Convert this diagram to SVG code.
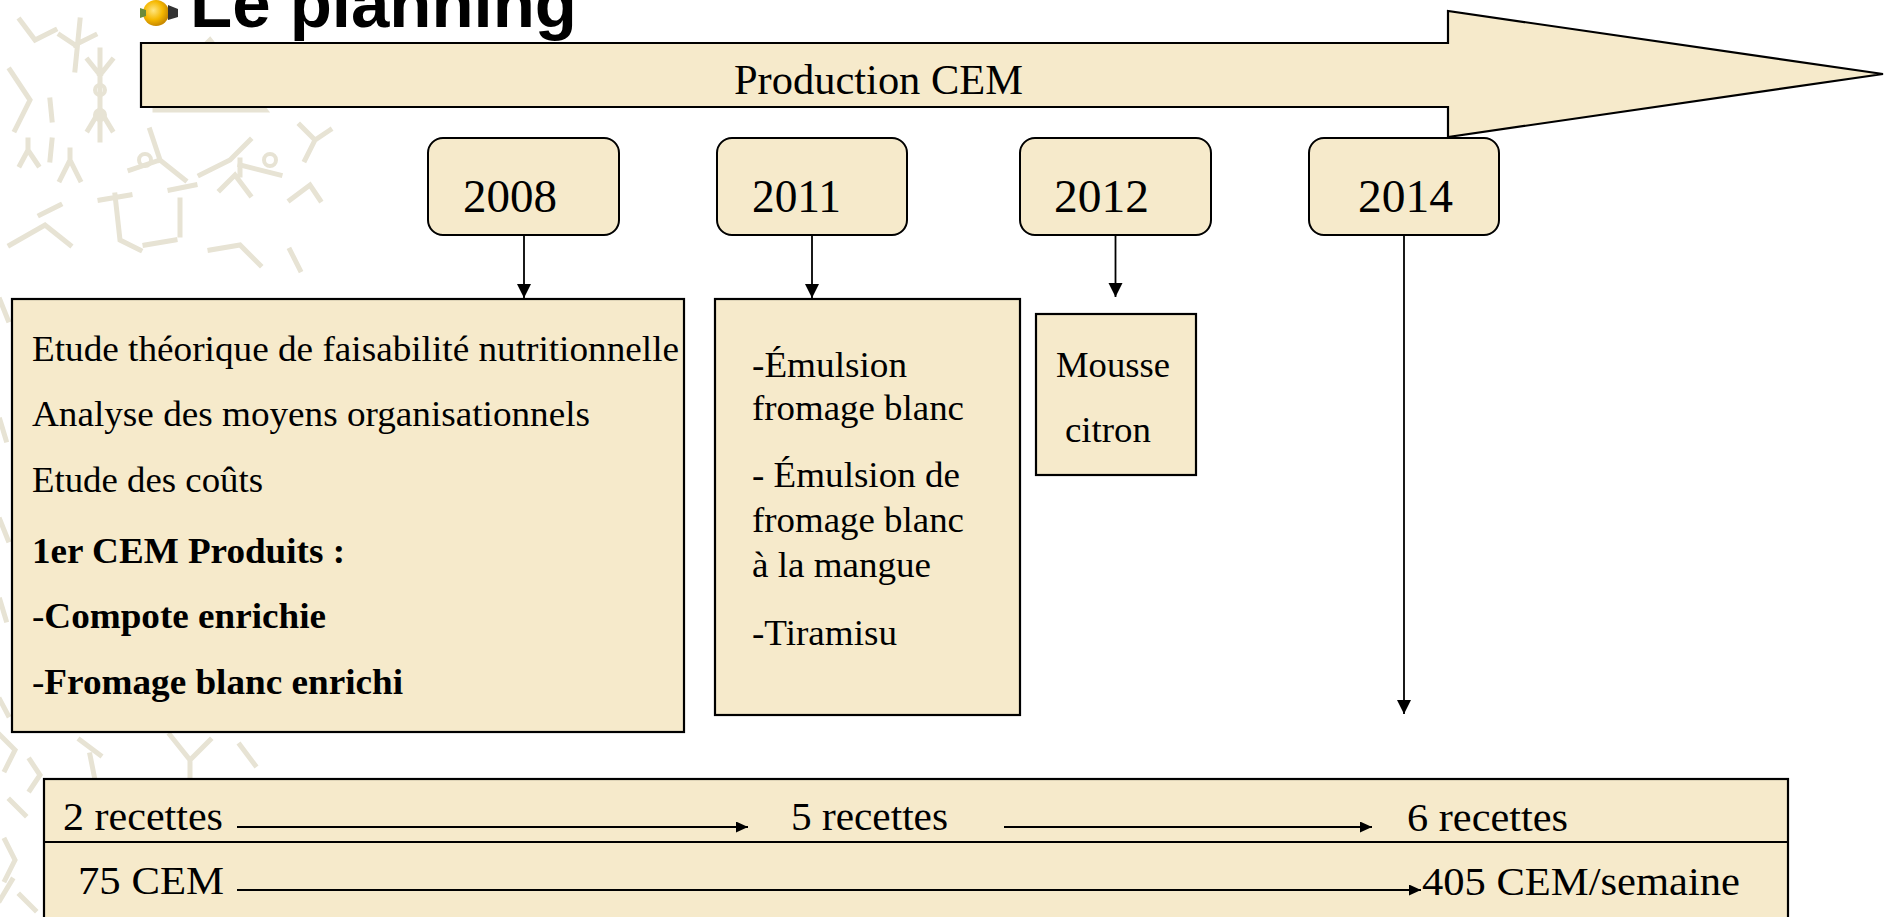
<svg xmlns="http://www.w3.org/2000/svg" width="1893" height="917" viewBox="0 0 1893 917">
<style>
.box{fill:#F6EACB;stroke:#000;stroke-width:2.2}
.yr{fill:#F6EACB;stroke:#000;stroke-width:2}
.t{font-family:"Liberation Serif","Times New Roman",serif;fill:#000}
.b{font-weight:bold}
.conn{stroke:#000;stroke-width:1.8;fill:none}
.bg{stroke:#E7E3D4;stroke-width:5;fill:none;stroke-linecap:square}
.bgc{stroke:#E7E3D4;stroke-width:4;fill:none}
</style>
<defs>
<marker id="ah" viewBox="0 0 14 16" refX="14" refY="8" markerWidth="14" markerHeight="16" markerUnits="userSpaceOnUse" orient="auto">
<path d="M0,1 L14,8 L0,15 Z" fill="#000"/>
</marker>
<marker id="ahs" viewBox="0 0 12 11" refX="12" refY="5.5" markerWidth="12" markerHeight="11" markerUnits="userSpaceOnUse" orient="auto">
<path d="M0,0 L12,5.5 L0,11 Z" fill="#000"/>
</marker>
<radialGradient id="ball" cx="0.4" cy="0.4" r="0.6">
<stop offset="0" stop-color="#FFE680"/>
<stop offset="0.6" stop-color="#F5B800"/>
<stop offset="1" stop-color="#C98A00"/>
</radialGradient>
</defs>
<rect width="1893" height="917" fill="#fff"/>
<g id="background">
<path class="bg" d="M20,20 L35,40 L55,30 M80,20 L75,70 M75,45 L60,35 M75,45 L95,35"/>
<path class="bg" d="M10,70 L30,100 L15,130 M50,100 L52,120 M52,140 L50,160"/>
<path class="bg" d="M100,50 L100,140 M100,75 L88,60 M100,75 L112,60 M100,110 L88,130 M100,110 L112,130"/>
<circle class="bgc" cx="100" cy="90" r="5"/><circle class="bgc" cx="100" cy="115" r="5"/>
<path class="bg" d="M20,165 L28,150 L38,165 M28,150 L28,140"/>
<path class="bg" d="M155,95 L210,40 L265,110 L155,110 Z"/>
<path class="bg" d="M130,170 L160,160 L185,180 M160,160 L150,130 M200,175 L230,160 L250,140 M240,165 L280,175"/>
<circle class="bgc" cx="145" cy="160" r="6"/><circle class="bgc" cx="270" cy="160" r="6"/>
<path class="bg" d="M60,180 L70,160 L80,180 M70,160 L70,150 M40,215 L60,205 M10,245 L45,225 L70,245"/>
<path class="bg" d="M100,200 L130,195 M115,195 L120,240 L140,250 M180,200 L180,235 M170,190 L195,185"/>
<path class="bg" d="M220,190 L235,175 L250,195 M240,175 L240,160 M290,200 L310,185 L320,200 M300,125 L315,140 L330,130 M315,140 L305,160"/>
<path class="bg" d="M145,245 L175,240 M210,250 L240,245 L260,265 M290,250 L300,270"/>
<path class="bg" d="M0,735 L15,750 L5,770 M30,760 L40,775 L30,790 M80,740 L100,755 M90,755 L95,780 L120,790 M170,735 L190,760 L210,740 M190,760 L190,780 M240,745 L255,765"/>
<path class="bg" d="M10,800 L25,815 M5,840 L15,860 L5,880 M20,895 L35,910 M0,900 L12,880"/>
<path class="bg" d="M0,300 L8,320 M0,420 L6,440 M0,520 L8,540 M0,600 L6,620 M0,700 L8,715"/>
</g>
<g id="title">
<circle cx="156" cy="13" r="13" fill="url(#ball)"/>
<path d="M168,5 L178,9 L178,17 L168,20 Z" fill="#333"/>
<path d="M140,8 L146,10 L146,16 L140,18 Z" fill="#6a8a3a"/>
<text x="190" y="27" font-family="'Liberation Sans',Arial,sans-serif" font-weight="bold" font-size="68" textLength="387" lengthAdjust="spacingAndGlyphs">Le planning</text>
</g>
<g id="production-arrow">
<polygon points="141,43 1448,43 1448,11 1883,74 1448,137 1448,107 141,107" fill="#F6EACB" stroke="#000" stroke-width="2.2" stroke-linejoin="miter"/>
<text class="t" x="734" y="94" font-size="43" textLength="289" lengthAdjust="spacingAndGlyphs">Production CEM</text>
</g>
<g id="year-2008">
<rect class="yr" x="428" y="138" width="191" height="97" rx="15"/>
<text class="t" x="463" y="212" font-size="46" textLength="94" lengthAdjust="spacingAndGlyphs">2008</text>
</g>
<g id="year-2011">
<rect class="yr" x="717" y="138" width="190" height="97" rx="15"/>
<text class="t" x="752" y="212" font-size="46" textLength="89" lengthAdjust="spacingAndGlyphs">2011</text>
</g>
<g id="year-2012">
<rect class="yr" x="1020" y="138" width="191" height="97" rx="15"/>
<text class="t" x="1054" y="212" font-size="46" textLength="95" lengthAdjust="spacingAndGlyphs">2012</text>
</g>
<g id="year-2014">
<rect class="yr" x="1309" y="138" width="190" height="97" rx="15"/>
<text class="t" x="1358" y="212" font-size="46" textLength="95" lengthAdjust="spacingAndGlyphs">2014</text>
</g>
<g id="content-2008">
<rect class="box" x="12" y="299" width="672" height="433"/>
<text class="t" x="32" y="361" font-size="35" textLength="647" lengthAdjust="spacingAndGlyphs">Etude théorique de faisabilité nutritionnelle</text>
<text class="t" x="32" y="426" font-size="35" textLength="558" lengthAdjust="spacingAndGlyphs">Analyse des moyens organisationnels</text>
<text class="t" x="32" y="492" font-size="35" textLength="231" lengthAdjust="spacingAndGlyphs">Etude des coûts</text>
<text class="t b" x="32" y="563" font-size="35" textLength="313" lengthAdjust="spacingAndGlyphs">1er CEM Produits :</text>
<text class="t" x="32" y="628" font-size="35" textLength="294" lengthAdjust="spacingAndGlyphs">-<tspan class="b">Compote enrichie</tspan></text>
<text class="t" x="32" y="694" font-size="35" textLength="371" lengthAdjust="spacingAndGlyphs">-<tspan class="b">Fromage blanc enrichi</tspan></text>
</g>
<g id="content-2011">
<rect class="box" x="715" y="299" width="305" height="416"/>
<text class="t" x="752" y="377" font-size="36" textLength="155" lengthAdjust="spacingAndGlyphs">-Émulsion</text>
<text class="t" x="752" y="420" font-size="36" textLength="212" lengthAdjust="spacingAndGlyphs">fromage blanc</text>
<text class="t" x="752" y="487" font-size="36" textLength="208" lengthAdjust="spacingAndGlyphs">- Émulsion de</text>
<text class="t" x="752" y="532" font-size="36" textLength="212" lengthAdjust="spacingAndGlyphs">fromage blanc</text>
<text class="t" x="752" y="577" font-size="36" textLength="179" lengthAdjust="spacingAndGlyphs">à la mangue</text>
<text class="t" x="752" y="645" font-size="36" textLength="145" lengthAdjust="spacingAndGlyphs">-Tiramisu</text>
</g>
<g id="content-2012">
<rect class="box" x="1036" y="314" width="160" height="161"/>
<text class="t" x="1056" y="377" font-size="36" textLength="114" lengthAdjust="spacingAndGlyphs">Mousse</text>
<text class="t" x="1065" y="442" font-size="36" textLength="86" lengthAdjust="spacingAndGlyphs">citron</text>
</g>
<g id="summary-table">
<rect class="box" x="44" y="779" width="1744" height="160"/>
<line x1="44" y1="842" x2="1788" y2="842" stroke="#000" stroke-width="2.2"/>
<text class="t" x="63" y="830" font-size="40" textLength="160" lengthAdjust="spacingAndGlyphs">2 recettes</text>
<text class="t" x="791" y="830" font-size="40" textLength="157" lengthAdjust="spacingAndGlyphs">5 recettes</text>
<text class="t" x="1407" y="831" font-size="40" textLength="161" lengthAdjust="spacingAndGlyphs">6 recettes</text>
<text class="t" x="78" y="894" font-size="40" textLength="146" lengthAdjust="spacingAndGlyphs">75 CEM</text>
<text class="t" x="1422" y="895" font-size="40" textLength="318" lengthAdjust="spacingAndGlyphs">405 CEM/semaine</text>
</g>
<g id="connectors">
<line class="conn" x1="524" y1="235" x2="524" y2="298" marker-end="url(#ah)"/>
<line class="conn" x1="812" y1="235" x2="812" y2="298" marker-end="url(#ah)"/>
<line class="conn" x1="1115.5" y1="235" x2="1115.5" y2="297" marker-end="url(#ah)"/>
<line class="conn" x1="1404" y1="235" x2="1404" y2="714" marker-end="url(#ah)"/>
<line class="conn" x1="237" y1="827" x2="748" y2="827" stroke-width="2.2" marker-end="url(#ahs)"/>
<line class="conn" x1="1004" y1="827" x2="1372" y2="827" stroke-width="2.2" marker-end="url(#ahs)"/>
<line class="conn" x1="237" y1="890" x2="1421" y2="890" stroke-width="2.2" marker-end="url(#ahs)"/>
</g>
</svg>
